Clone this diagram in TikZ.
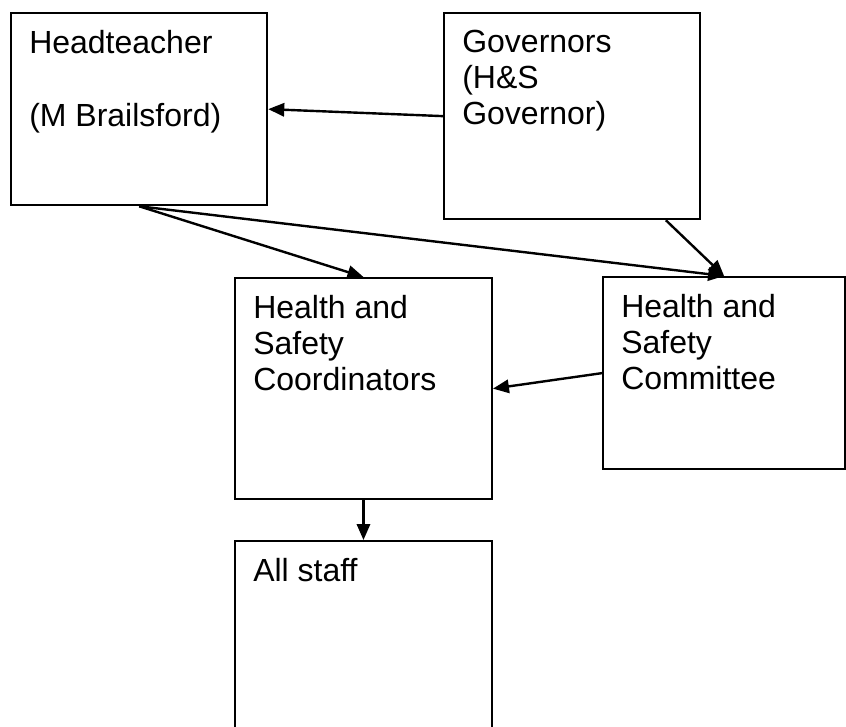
\documentclass[tikz,border=0pt]{standalone}
\usepackage{fontspec}
\setmainfont{Liberation Sans}
\usetikzlibrary{arrows.meta, positioning}
\tikzset{
    box/.style={rectangle, draw=black, line width=1.7pt, anchor=north west, inner sep=0pt},
    txt/.style={anchor=north west, align=left, inner sep=0pt, font=\fontsize{24}{27}\selectfont},
    arrow/.style={line width=1.8pt, -{Triangle[length=12pt, width=10pt]}}
}

\begin{document}
\begin{tikzpicture}[x=0.75pt, y=-0.75pt]
    \clip (0,0) rectangle (846,727);
    % Boxes
    \node[box, minimum width=192pt, minimum height=144pt] (head) at (10,12) {};
    \node[box, minimum width=192pt, minimum height=154.5pt] (gov) at (443,12) {};
    \node[box, minimum width=192.5pt, minimum height=165.75pt] (coord) at (234,277) {};
    \node[box, minimum width=181.5pt, minimum height=144pt] (comm) at (602,276) {};
    \node[box, minimum width=192.5pt, minimum height=165pt] (staff) at (234,540) {};

    % Texts
    \node[txt] (headtxt) at ([shift={(14.25pt,-13.2pt)}]head.north west) {Headteacher\\[28pt](M Brailsford)};
    \node[txt] (govtxt) at ([shift={(14.25pt,-13.2pt)}]gov.north west) {Governors\\(H\&S\\Governor)};
    \node[txt] (coordtxt) at ([shift={(14.25pt,-13.2pt)}]coord.north west) {Health and\\Safety\\Coordinators};
    \node[txt] (commtxt) at ([shift={(14.25pt,-13.2pt)}]comm.north west) {Health and\\Safety\\Committee};
    \node[txt] (stafftxt) at ([shift={(14.25pt,-13.2pt)}]staff.north west) {All staff};

    % Arrows
    \draw[arrow] (gov.west) -- (head.east);
    \draw[arrow] (head.south) -- (coord.north);
    \draw[arrow] (head.south) -- (comm.north);
    \draw[arrow] (gov.-48) -- (comm.north);
    \draw[arrow] (comm.west) -- (coord.east);
    \draw[arrow] (coord.south) -- (staff.north);
\end{tikzpicture}
\end{document}
